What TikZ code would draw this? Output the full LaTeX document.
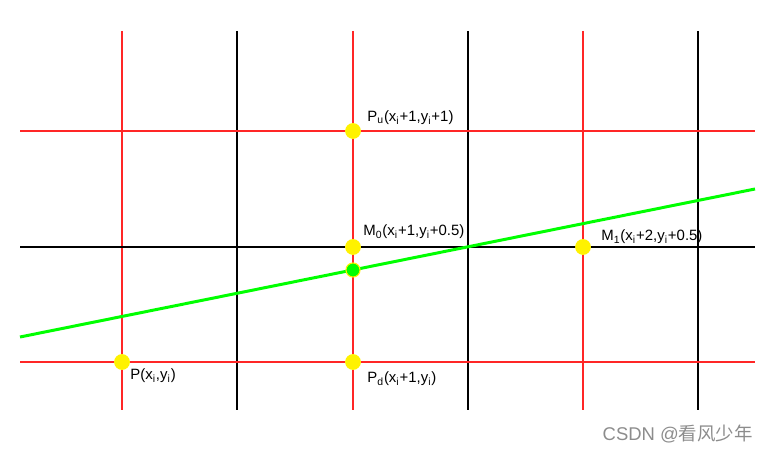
\documentclass[tikz,border=0pt]{standalone}
\usepackage{fontspec}
\setmainfont{Liberation Sans}
\newfontfamily\cjk{Noto Sans CJK SC}
\usepackage{tikz}

\tikzset{
  redline/.style={red!85,line width=0.6pt},
  blackline/.style={black,line width=0.6pt},
  ydot/.style={circle,fill=yellow,inner sep=0pt,minimum size=9pt},
  gdot/.style={circle,fill=green,draw=yellow,line width=0.6pt,inner sep=0pt,minimum size=8pt},
  lbl/.style={anchor=base west,inner sep=0pt,font=\fontsize{8.5}{10}\selectfont}
}

\begin{document}
\begin{tikzpicture}[x=0.02cm,y=-0.02cm]
	  \useasboundingbox (0,0) rectangle (771,452);
	  \draw[redline] (122,31) -- (122,410);
	  \draw[blackline] (237,31) -- (237,410);
	  \draw[redline] (353,31) -- (353,410);
	  \draw[blackline] (468,31) -- (468,410);
	  \draw[redline] (583,31) -- (583,410);
	  \draw[blackline] (698,31) -- (698,410);
	  \draw[redline] (20,131) -- (755,131);
	  \draw[blackline] (20,247) -- (755,247);
	  \draw[redline] (20,362) -- (755,362);
	  \coordinate (a) at (20,337);
	  \coordinate (b) at (755,189);
	  \draw[green,line width=1.7pt] (a) -- (b);
	  \node[ydot] (p) at (122,362) {};
	  \node[ydot] (pd) at (353,362) {};
	  \node[ydot] (m0) at (353,247) {};
	  \node[ydot] (pu) at (353,131) {};
	  \node[ydot] (m1) at (583,247) {};
	  \node[gdot] (q) at (353,270) {};
	  \node[lbl] (pulbl) at (367,122) {P\textsubscript{u}(x\textsubscript{i}+1,y\textsubscript{i}+1)};
	  \node[lbl] (m0lbl) at (363,236) {M\textsubscript{0}(x\textsubscript{i}+1,y\textsubscript{i}+0.5)};
	  \node[lbl] (m1lbl) at (601,241) {M\textsubscript{1}(x\textsubscript{i}+2,y\textsubscript{i}+0.5)};
	  \node[lbl] (plbl) at (130,380) {P(x\textsubscript{i},y\textsubscript{i})};
	  \node[lbl] (pdlbl) at (367,383) {P\textsubscript{d}(x\textsubscript{i}+1,y\textsubscript{i})};
	  \node[anchor=base east,inner sep=0pt,text=black!45,font=\fontsize{10.5}{12}\selectfont] (mark) at (753,440) {CSDN @{\cjk 看风少年}};
	\end{tikzpicture}
\end{document}
